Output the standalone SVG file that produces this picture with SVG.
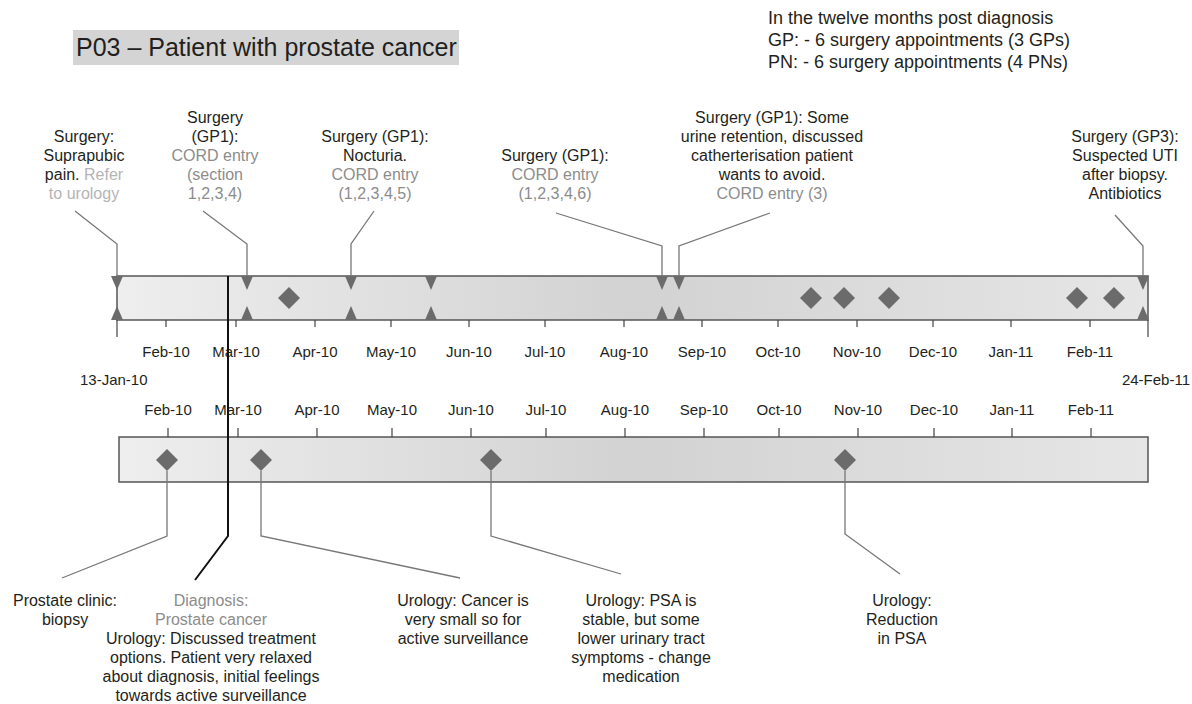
<svg xmlns="http://www.w3.org/2000/svg" width="1192" height="704" viewBox="0 0 1192 704">
<defs>
<linearGradient id="barg" x1="0" y1="0" x2="1" y2="0">
<stop offset="0" stop-color="#eeeeee"/>
<stop offset="0.5" stop-color="#d2d2d2"/>
<stop offset="1" stop-color="#e6e6e6"/>
</linearGradient>
<path id="dia" d="M0,-11 L11,0 L0,11 L-11,0 Z" fill="#6b6b6b"/>
<path id="tdown" d="M-6,0 L6,0 L0,14 Z" fill="#6b6b6b"/>
<path id="tup" d="M-6,0 L6,0 L0,-14 Z" fill="#6b6b6b"/>
</defs>
<style>
text{font-family:"Liberation Sans",Arial,sans-serif;fill:#231f20}
.lbl{font-size:16px;text-anchor:middle}
.mon{font-size:15px;text-anchor:middle}
.g{fill:#8c8c8c}
.lg{fill:#b4b4b4}
.bar{fill:url(#barg);stroke:#555;stroke-width:1.5}
.tick{stroke:#444;stroke-width:1.2}
.lead{fill:none;stroke:#777;stroke-width:1.3}
</style>
<rect width="1192" height="704" fill="#fff"/>

<g id="title">
<rect x="73" y="30" width="386" height="35" fill="#d4d4d4"/>
<text x="76" y="56" style="font-size:25px">P03 – Patient with prostate cancer</text>
</g>

<g id="summary" style="font-size:18px">
<text x="768" y="24">In the twelve months post diagnosis</text>
<text x="768" y="46">GP: - 6 surgery appointments (3 GPs)</text>
<text x="768" y="68">PN: - 6 surgery appointments (4 PNs)</text>
</g>

<g id="top-bar">
<rect class="bar" x="117" y="276" width="1031" height="44"/>
<g class="tick">
<line x1="117" y1="320" x2="117" y2="337"/>
<line x1="1148" y1="320" x2="1148" y2="337"/>
<line x1="166" y1="320" x2="166" y2="327"/>
<line x1="236" y1="320" x2="236" y2="327"/>
<line x1="315" y1="320" x2="315" y2="327"/>
<line x1="391" y1="320" x2="391" y2="327"/>
<line x1="469" y1="320" x2="469" y2="327"/>
<line x1="545" y1="320" x2="545" y2="327"/>
<line x1="624" y1="320" x2="624" y2="327"/>
<line x1="702" y1="320" x2="702" y2="327"/>
<line x1="778" y1="320" x2="778" y2="327"/>
<line x1="857" y1="320" x2="857" y2="327"/>
<line x1="933" y1="320" x2="933" y2="327"/>
<line x1="1011" y1="320" x2="1011" y2="327"/>
<line x1="1090" y1="320" x2="1090" y2="327"/>
</g>
<g class="mon">
<text x="166" y="357">Feb-10</text>
<text x="236" y="357">Mar-10</text>
<text x="315" y="357">Apr-10</text>
<text x="391" y="357">May-10</text>
<text x="469" y="357">Jun-10</text>
<text x="545" y="357">Jul-10</text>
<text x="624" y="357">Aug-10</text>
<text x="702" y="357">Sep-10</text>
<text x="778" y="357">Oct-10</text>
<text x="857" y="357">Nov-10</text>
<text x="933" y="357">Dec-10</text>
<text x="1011" y="357">Jan-11</text>
<text x="1090" y="357">Feb-11</text>
</g>
</g>

<g id="range-labels" style="font-size:15px">
<text x="80" y="385">13-Jan-10</text>
<text x="1190" y="385" style="text-anchor:end">24-Feb-11</text>
</g>

<g id="bottom-bar">
<rect class="bar" x="119" y="437" width="1029" height="45"/>
<g class="tick">
<line x1="168" y1="428" x2="168" y2="437"/>
<line x1="238" y1="428" x2="238" y2="437"/>
<line x1="317" y1="428" x2="317" y2="437"/>
<line x1="392" y1="428" x2="392" y2="437"/>
<line x1="471" y1="428" x2="471" y2="437"/>
<line x1="546" y1="428" x2="546" y2="437"/>
<line x1="625" y1="428" x2="625" y2="437"/>
<line x1="704" y1="428" x2="704" y2="437"/>
<line x1="779" y1="428" x2="779" y2="437"/>
<line x1="858" y1="428" x2="858" y2="437"/>
<line x1="934" y1="428" x2="934" y2="437"/>
<line x1="1012" y1="428" x2="1012" y2="437"/>
<line x1="1091" y1="428" x2="1091" y2="437"/>
</g>
<g class="mon">
<text x="168" y="415">Feb-10</text>
<text x="238" y="415">Mar-10</text>
<text x="317" y="415">Apr-10</text>
<text x="392" y="415">May-10</text>
<text x="471" y="415">Jun-10</text>
<text x="546" y="415">Jul-10</text>
<text x="625" y="415">Aug-10</text>
<text x="704" y="415">Sep-10</text>
<text x="779" y="415">Oct-10</text>
<text x="858" y="415">Nov-10</text>
<text x="934" y="415">Dec-10</text>
<text x="1012" y="415">Jan-11</text>
<text x="1091" y="415">Feb-11</text>
</g>
</g>

<g id="connectors">
<polyline class="lead" points="75,211 117,244 117,276"/>
<polyline class="lead" points="203,211 247,244 247,276"/>
<polyline class="lead" points="374,211 351,244 351,276"/>
<polyline class="lead" points="556,213 662,246 662,276"/>
<polyline class="lead" points="770,213 679,246 679,276"/>
<polyline class="lead" points="1115,215 1143,246 1143,276"/>
<polyline class="lead" points="167,471 167,536 62,578"/>
<polyline class="lead" points="261,471 261,536 460,578"/>
<polyline class="lead" points="491,471 491,536 621,574"/>
<polyline class="lead" points="845,471 845,534 900,574"/>
<polyline points="228,276 228,536 195,580" fill="none" stroke="#111" stroke-width="2"/>
</g>

<g id="top-events">
<use href="#tdown" x="117" y="276"/><use href="#tup" x="117" y="320"/>
<use href="#tdown" x="247" y="276"/><use href="#tup" x="247" y="320"/>
<use href="#tdown" x="351" y="276"/><use href="#tup" x="351" y="320"/>
<use href="#tdown" x="431" y="276"/><use href="#tup" x="431" y="320"/>
<use href="#tdown" x="662" y="276"/><use href="#tup" x="662" y="320"/>
<use href="#tdown" x="679" y="276"/><use href="#tup" x="679" y="320"/>
<use href="#tdown" x="1143" y="276"/><use href="#tup" x="1143" y="320"/>
<use href="#dia" x="289" y="298"/>
<use href="#dia" x="811" y="298"/>
<use href="#dia" x="844" y="298"/>
<use href="#dia" x="889" y="298"/>
<use href="#dia" x="1077" y="298"/>
<use href="#dia" x="1114" y="298"/>
</g>

<g id="bottom-events">
<use href="#dia" x="167" y="460"/>
<use href="#dia" x="261" y="460"/>
<use href="#dia" x="491" y="460"/>
<use href="#dia" x="845" y="460"/>
</g>

<g id="n-suprapubic" class="lbl">
<text x="84" y="142">Surgery:</text>
<text x="84" y="161">Suprapubic</text>
<text x="84" y="180">pain. <tspan class="lg">Refer</tspan></text>
<text x="84" y="199" class="lg">to urology</text>
</g>
<g id="n-gp1-a" class="lbl">
<text x="215" y="123">Surgery</text>
<text x="215" y="142">(GP1):</text>
<text x="215" y="161" class="g">CORD entry</text>
<text x="215" y="180" class="g">(section</text>
<text x="215" y="199" class="g">1,2,3,4)</text>
</g>
<g id="n-gp1-b" class="lbl">
<text x="375" y="142">Surgery (GP1):</text>
<text x="375" y="161">Nocturia.</text>
<text x="375" y="180" class="g">CORD entry</text>
<text x="375" y="199" class="g">(1,2,3,4,5)</text>
</g>
<g id="n-gp1-c" class="lbl">
<text x="555" y="161">Surgery (GP1):</text>
<text x="555" y="180" class="g">CORD entry</text>
<text x="555" y="199" class="g">(1,2,3,4,6)</text>
</g>
<g id="n-gp1-d" class="lbl">
<text x="772" y="123">Surgery (GP1): Some</text>
<text x="772" y="142">urine retention, discussed</text>
<text x="772" y="161">catherterisation patient</text>
<text x="772" y="180">wants to avoid.</text>
<text x="772" y="199" class="g">CORD entry (3)</text>
</g>
<g id="n-gp3" class="lbl">
<text x="1125" y="142">Surgery (GP3):</text>
<text x="1125" y="161">Suspected UTI</text>
<text x="1125" y="180">after biopsy.</text>
<text x="1125" y="199">Antibiotics</text>
</g>

<g id="n-clinic" class="lbl">
<text x="65" y="606">Prostate clinic:</text>
<text x="65" y="625">biopsy</text>
</g>
<g id="n-diagnosis" class="lbl">
<text x="211" y="606" class="g">Diagnosis:</text>
<text x="211" y="625" class="g">Prostate cancer</text>
<text x="211" y="644">Urology: Discussed treatment</text>
<text x="211" y="663">options. Patient very relaxed</text>
<text x="211" y="682">about diagnosis, initial feelings</text>
<text x="211" y="701">towards active surveillance</text>
</g>
<g id="n-small" class="lbl">
<text x="463" y="606">Urology: Cancer is</text>
<text x="463" y="625">very small so for</text>
<text x="463" y="644">active surveillance</text>
</g>
<g id="n-psa" class="lbl">
<text x="641" y="606">Urology: PSA is</text>
<text x="641" y="625">stable, but some</text>
<text x="641" y="644">lower urinary tract</text>
<text x="641" y="663">symptoms - change</text>
<text x="641" y="682">medication</text>
</g>
<g id="n-reduction" class="lbl">
<text x="902" y="606">Urology:</text>
<text x="902" y="625">Reduction</text>
<text x="902" y="644">in PSA</text>
</g>
</svg>
